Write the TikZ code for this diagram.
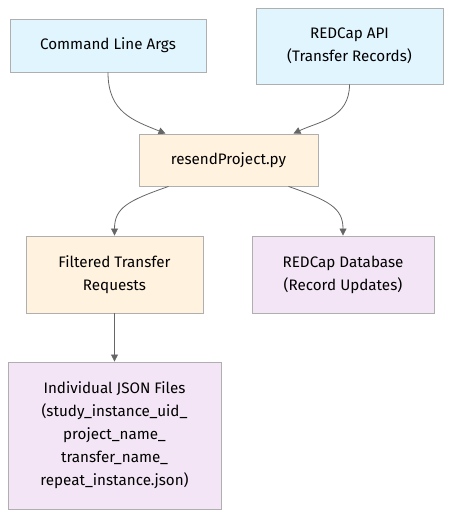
\documentclass[tikz,border=0pt]{standalone}
\usepackage{fontspec}
\setmainfont{Fira Sans}
\usetikzlibrary{arrows.meta}
\definecolor{bluef}{HTML}{E1F5FE}
\definecolor{orangef}{HTML}{FFF3E0}
\definecolor{purplef}{HTML}{F3E5F5}
\definecolor{boxline}{HTML}{AFAFAF}
\definecolor{edgec}{HTML}{666666}
\begin{document}
\begin{tikzpicture}[x=1pt,y=-1pt,
  box/.style={draw=boxline,line width=0.9pt,align=center,inner sep=0pt,font=\fontsize{15.2}{23}\selectfont},
  blue/.style={box,fill=bluef},
  orange/.style={box,fill=orangef},
  purple/.style={box,fill=purplef},
  conn/.style={draw=edgec,line width=0.8pt,-{Triangle[length=7pt,width=7pt]}}]
\useasboundingbox (0,0) rectangle (459,526);
\node[blue,minimum width=196pt,minimum height=53pt] (cmd) at (108,45.5) {Command Line Args};
\node[blue,minimum width=187pt,minimum height=76pt] (api) at (349.5,46) {REDCap API\\(Transfer Records)};
\node[orange,minimum width=179pt,minimum height=52pt] (res) at (228.5,160) {resendProject.py};
\node[orange,minimum width=177pt,minimum height=77pt] (filt) at (114.5,274.5) {Filtered Transfer\\Requests};
\node[purple,minimum width=182pt,minimum height=77pt] (db) at (343,274.5) {REDCap Database\\(Record Updates)};
\node[purple,minimum width=213pt,minimum height=147pt] (json) at (114.5,435.5) {Individual JSON Files\\(study\_instance\_uid\_\\project\_name\_\\transfer\_name\_\\repeat\_instance.json)};
\draw[conn] (cmd.south) .. controls ([yshift=-40pt]cmd.south) and ([xshift=-95pt,yshift=13pt]res.north) .. ([xshift=-63pt]res.north);
\draw[conn] (api.south) .. controls ([yshift=-34pt]api.south) and ([xshift=90pt,yshift=12pt]res.north) .. ([xshift=65pt]res.north);
\draw[conn] ([xshift=-60pt]res.south) .. controls ([xshift=-100pt,yshift=-14pt]res.south) and ([yshift=28pt]filt.north) .. (filt.north);
\draw[conn] ([xshift=60pt]res.south) .. controls ([xshift=100pt,yshift=-14pt]res.south) and ([yshift=28pt]db.north) .. (db.north);
\draw[conn] (filt.south) -- (json.north);
\end{tikzpicture}
\end{document}
